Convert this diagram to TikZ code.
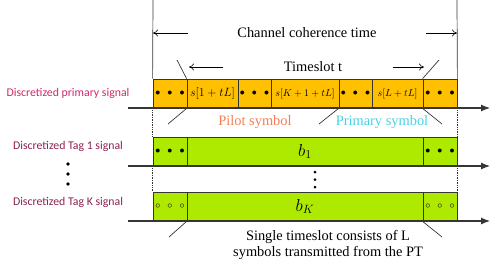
\documentclass[tikz,border=0pt]{standalone}
\usepackage{fontspec}
\setmainfont{Liberation Serif}
\newfontfamily\labelfont{Carlito}
\usepackage{tikz}
\usetikzlibrary{arrows.meta,positioning,calc}
\definecolor{slotorange}{HTML}{FFC000}
\definecolor{taggreen}{HTML}{AEEA00}
\definecolor{primlabel}{HTML}{D0286A}
\definecolor{taglabel}{HTML}{8C2352}
\definecolor{pilotcol}{HTML}{F27F55}
\definecolor{primcol}{HTML}{45D3E6}
\definecolor{edgegray}{HTML}{353535}
\newcommand{\ThreeDots}{\normalsize$\bullet\mkern9mu\bullet\mkern9mu\bullet$}
\newcommand{\ThreeRings}{\normalsize$\circ\mkern9mu\circ\mkern9mu\circ$}
\newcommand{\SlotCell}[6]{%
  \path (#2,#3) node (#1) [cell, fill=#4, minimum width=#5] {#6};
}
\tikzset{
  cell/.style={draw=edgegray, line width=0.8pt, minimum height=29pt, inner sep=0pt, font=\large},
  sig/.style={font=\labelfont\fontsize{11.8}{13}\selectfont},
  axis/.style={draw=edgegray, line width=1.1pt, -{Latex[length=9pt,width=7pt]}},
  spanarrow/.style={line width=0.6pt, -{To[length=5pt,width=7pt]}},
  guide/.style={draw=edgegray, line width=0.7pt},
}

\begin{document}
\begin{tikzpicture}[x=1pt,y=-1pt]
  \useasboundingbox (0,0) rectangle (491,269);
  \SlotCell{p0}{170}{93.5}{slotorange}{34pt}{\ThreeDots}
  \SlotCell{p1}{212.5}{93.5}{slotorange}{51pt}{$s[1+tL]$}
  \SlotCell{p2}{254.5}{93.5}{slotorange}{33pt}{\ThreeDots}
  \SlotCell{p3}{305}{93.5}{slotorange}{68pt}{\normalsize$s[K+1+tL]$}
  \SlotCell{p4}{355.5}{93.5}{slotorange}{33pt}{\ThreeDots}
  \SlotCell{p5}{397.5}{93.5}{slotorange}{51pt}{\normalsize$s[L+tL]$}
  \SlotCell{p6}{440}{93.5}{slotorange}{34pt}{\ThreeDots}
  \SlotCell{g0}{170}{151.5}{taggreen}{34pt}{\ThreeDots}
  \SlotCell{g1}{305}{151.5}{taggreen}{236pt}{\LARGE$b_1$}
  \SlotCell{g2}{440}{151.5}{taggreen}{34pt}{\ThreeDots}
  \SlotCell{k0}{170}{206.5}{taggreen}{34pt}{\ThreeRings}
  \SlotCell{k1}{305}{206.5}{taggreen}{236pt}{\LARGE$b_K$}
  \SlotCell{k2}{440}{206.5}{taggreen}{34pt}{\ThreeRings}

  \coordinate (axL1) at (128,108);  \coordinate (axR1) at (490,108);
  \coordinate (axL2) at (128,166);  \coordinate (axR2) at (490,166);
  \coordinate (axL3) at (128,221);  \coordinate (axR3) at (490,221);
  \draw[axis] (axL1) -- (axR1);
  \draw[axis] (axL2) -- (axR2);
  \draw[axis] (axL3) -- (axR3);

  \coordinate (vL) at (153,0);
  \coordinate (vR) at (457,0);
  \draw[guide] (vL) -- (p0.north west);
  \draw[guide] (vR) -- (p6.north east);
  \draw[guide, densely dotted] (p0.south west) -- (g0.north west);
  \draw[guide, densely dotted] (g0.south west) -- (k0.north west);
  \draw[guide, densely dotted] (p6.south east) -- (g2.north east);
  \draw[guide, densely dotted] (g2.south east) -- (k2.north east);

  \node[font=\Large] (coh) at (307,33) {Channel coherence time};
  \coordinate (cohA) at (188,33);
  \coordinate (cohB) at (426,33);
  \draw[spanarrow] (cohA) -- (cohA -| vL);
  \draw[spanarrow] (cohB) -- (cohB -| vR);

  \node[font=\Large] (slot) at (313,67) {Timeslot t};
  \coordinate (slotA) at (223,67);  \coordinate (slotA2) at (189,67);
  \coordinate (slotB) at (393,67);  \coordinate (slotB2) at (424,67);
  \draw[spanarrow] (slotA) -- (slotA2);
  \draw[spanarrow] (slotB) -- (slotB2);
  \coordinate (tkL) at (177,60);
  \coordinate (tkR) at (439,60);
  \draw[guide] (p1.north west) -- (tkL);
  \draw[guide] (p6.north west) -- (tkR);

  \coordinate (plA) at (168,124);
  \coordinate (plB) at (319,124);
  \coordinate (plC) at (442,124);
  \draw[guide] (p1.south west) -- (plA);
  \draw[guide] (p4.south west) -- (plB);
  \draw[guide] (p6.south west) -- (plC);
  \node[font=\Large, text=pilotcol] (pilot) at (255,122) {Pilot symbol};
  \node[font=\Large, text=primcol] (prim) at (382,122) {Primary symbol};

  \fill (315,172) circle (1.5) (315,179.5) circle (1.5) (315,187) circle (1.5);

  \coordinate (btA) at (169,237);
  \coordinate (btB) at (442,237);
  \draw[guide] (k1.south west) -- (btA);
  \draw[guide] (k2.south west) -- (btB);
  \node[font=\fontsize{14.4}{16}\selectfont, align=center] (note) at (328,245)
    {Single timeslot consists of L\\symbols transmitted from the PT};

  \node[sig, text=primlabel] (lbP) at (68,93) {Discretized primary signal};
  \node[sig, text=taglabel] (lbT1) at (68,146) {Discretized Tag 1 signal};
  \node[sig, text=taglabel] (lbTK) at (68,202) {Discretized Tag K signal};
  \foreach \yy in {164,174,184}
    \fill (68,\yy) circle (1.8);
\end{tikzpicture}
\end{document}
